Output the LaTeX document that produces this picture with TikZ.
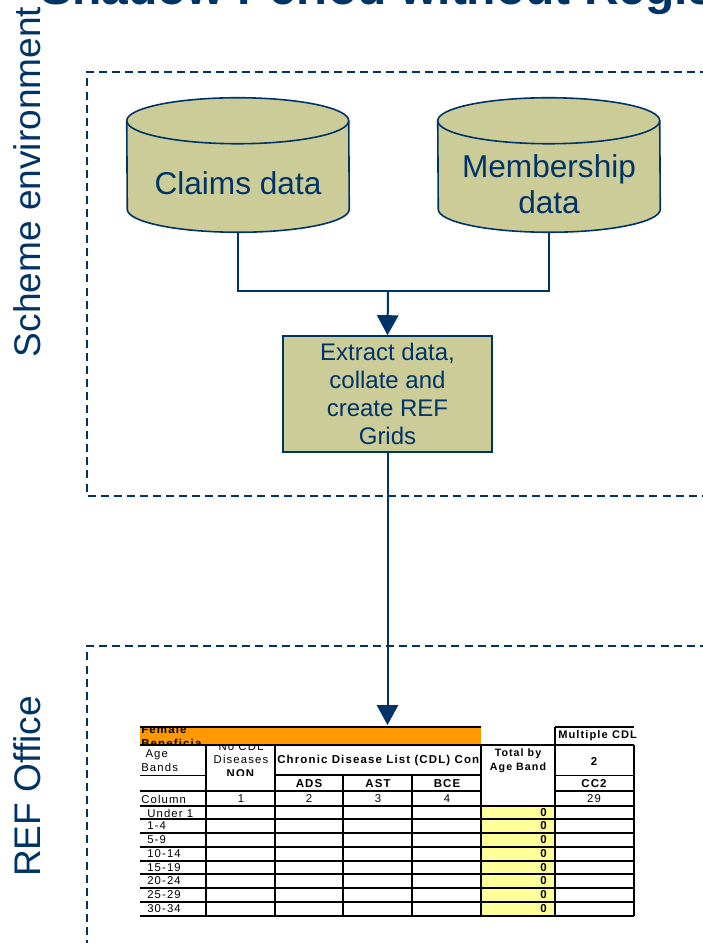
\documentclass[tikz,border=0pt]{standalone}
\usepackage{fontspec}
\setmainfont{Liberation Sans}
\newfontfamily\tablefont[LetterSpace=10]{Liberation Sans}
\usetikzlibrary{arrows.meta}
\definecolor{navy}{HTML}{003366}
\definecolor{khaki}{HTML}{CCCC99}
\definecolor{banner}{HTML}{FF9900}
\definecolor{pale}{HTML}{FFFF99}
\tikzset{
	conn/.style={navy,line width=1.5pt},
	zone/.style={navy,line width=1pt,dash pattern=on 6pt off 3.8pt},
	store/.style={minimum width=166.5pt,minimum height=100.5pt,inner sep=0pt},
	drum/.style={draw=navy,line width=1.2pt},
	rim/.style={x radius=83.25pt,y radius=17.25pt},
	storetext/.style={text=navy,inner sep=0pt,font=\fontsize{23.7}{27}\selectfont,align=center},
	side/.style={rotate=90,text=navy,font=\fontsize{27.8}{32}\selectfont},
	cell/.style={font=\tablefont\fontsize{8.5}{10.3}\selectfont,inner sep=0pt},
	bcell/.style={cell,font=\tablefont\bfseries\fontsize{8.6}{10.3}\selectfont},
	grid/.style={line width=1.1pt}
}
\begin{document}
\begin{tikzpicture}[>={Triangle[width=16pt,length=15pt]},line join=miter,x=.75pt,y=-.75pt]
	\useasboundingbox (0,0) rectangle (703,943);
	\clip (0,0) rectangle (703,943);
	\node[anchor=base west,text=navy,font=\bfseries\fontsize{36}{40}\selectfont,inner sep=0pt] (title) at (40,4) {Shadow Period without Regis};
	\node[side] (scheme) at (27,182) {Scheme environment};
	\node[side] (office) at (27,786.5) {REF Office};
	\draw[zone] (760,72)--(87,72)--(87,496)--(760,496);
	\draw[zone] (760,646)--(87,646)--(87,990);
	\node[store] (claims) at (238,165) {};
	\node[store] (members) at (549,165) {};
	\foreach \n in {claims,members}{
		\draw[drum,fill=khaki] ([yshift=-17.25pt]\n.north west) arc[start angle=180,end angle=0,rim]--([yshift=17.25pt]\n.south east) arc[start angle=0,end angle=-180,rim]--cycle;
		\draw[drum] ([yshift=-17.25pt]\n.north west) arc[start angle=180,end angle=360,rim];
	}
	\node[storetext] (claimstext) at (238,183) {Claims data};
	\node[storetext] (memberstext) at (549,184) {Membership\\data};
	\node[draw=navy,fill=khaki,line width=1.2pt,minimum width=157pt,minimum height=87pt,inner sep=0pt,text=navy,font=\fontsize{18}{21}\selectfont,align=center] (extract) at (387.5,394) {Extract data,\\collate and\\create REF\\Grids};
	\coordinate (join) at (388,291);
	\draw[conn] (claims.south)--(238,291)--(549,291)--(members.south);
	\draw[conn,->] (join)--(extract.north);

	\fill[pale] (481,806) rectangle (555,916);
	\node[fill=banner,minimum width=255.75pt,minimum height=13.5pt,inner sep=0pt,anchor=north west] (orange) at (140,727) {};
	\draw[conn,->,shorten >=1.5pt] (extract.south)--(orange.north-|extract.south);
	\begin{scope}
		\clip (140,727) rectangle (481,745);
		\node[bcell,anchor=west,align=left] (sex) at (141,736.5) {Female\\Beneficia};
	\end{scope}
	\begin{scope}
		\clip (207,746) rectangle (274,775);
		\node[cell,align=center] (none) at (241,760) {No CDL\\Diseases\\\textbf{NON}};
	\end{scope}
	\node[bcell,anchor=west] (chronic) at (277,761) {Chronic Disease List (CDL) Con};
	\begin{scope}
		\clip (556,728) rectangle (636,745);
		\node[bcell,font=\tablefont\bfseries\fontsize{8.3}{10}\selectfont,anchor=west] (multi) at (558,736) {Multiple CDL};
	\end{scope}
	\node[cell,align=left,anchor=west] (age) at (141,761) {\ Age\\Bands};
	\node[bcell,font=\tablefont\bfseries\fontsize{8}{10.5}\selectfont,align=center] (total) at (518,760.5) {Total by\\Age Band};
	\node[bcell] (two) at (594,761) {2};
	\node[bcell] (cctwo) at (594,784) {CC2};
	\node[cell,anchor=west] (col) at (141,799) {Column};
	\node[bcell] (ads) at (309,784) {ADS};
	\node[bcell] (ast) at (378,784) {AST};
	\node[bcell] (bce) at (447,784) {BCE};
	\foreach \x/\t in {241/1,309/2,378/3,447/4,594/29}{
		\node[cell] (num\t) at (\x,799) {\t};
	}
	\foreach \y/\t in {813/Under 1,826/1-4,840/5-9,854/10-14,868/15-19,881/20-24,895/25-29,909/30-34}{
		\node[cell,anchor=west] (band\y) at (147,\y) {\t};
		\node[bcell,anchor=east] (zero\y) at (547,\y) {0};
	}
	\foreach \y in {806,819,833,847,861,874,888,902,916}{
		\draw[grid] (140,\y)--(634,\y);
	}
	\foreach \x in {206,275,343,412,481,555}{
		\draw[grid] (\x,791)--(\x,916);
	}
	\draw[grid] (634,745)--(634,916);
	\foreach \x in {343,412}{
		\draw[grid] (\x,775)--(\x,791);
	}
	\foreach \x in {206,275,481,555}{
		\draw[grid] (\x,745)--(\x,791);
	}
	\draw[grid] (555,727)--(555,745);
	\draw[line width=1.6pt] (140,727)--(481,727);
	\draw[line width=1.6pt] (555,727)--(634,727);
	\draw[line width=1.6pt] (140,745)--(634,745);
	\draw[grid] (275,775)--(481,775);
	\draw[line width=.7pt] (140,775)--(206,775);
	\draw[line width=.7pt] (555,775)--(634,775);
	\draw[grid] (140,791)--(481,791);
	\draw[grid] (555,791)--(634,791);
	\draw[line width=1.6pt] (140,806)--(634,806);
\end{tikzpicture}
\end{document}
